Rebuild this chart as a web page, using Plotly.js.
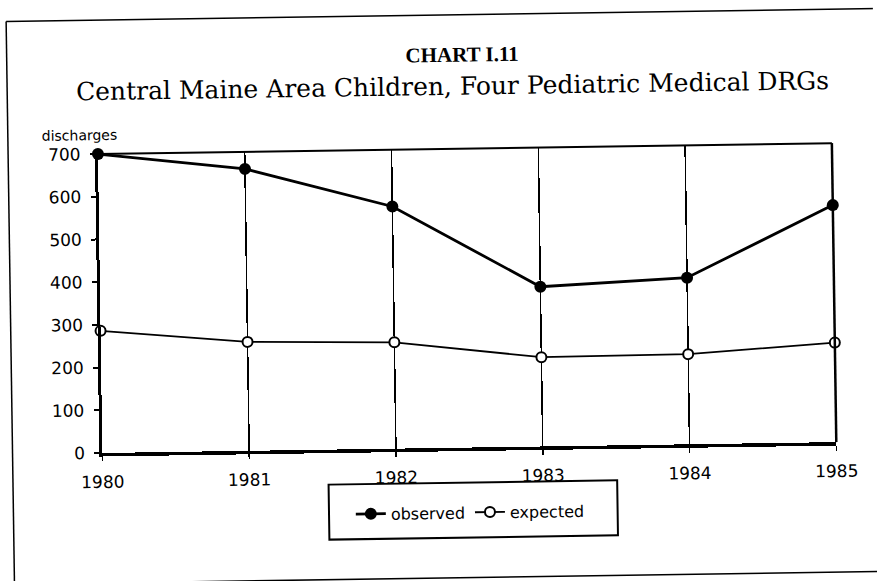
<!DOCTYPE html>
<html>
<head>
<meta charset="utf-8">
<script src="https://cdn.plot.ly/plotly-3.0.1.min.js"></script>
<style>
html,body{margin:0;padding:0;background:#fff;overflow:hidden;}
#chart{width:877px;height:581px;transform:rotate(-0.85deg);transform-origin:438px 290px;}
</style>
</head>
<body>
<div id="chart"></div>
<script>
var years = [1980, 1981, 1982, 1983, 1984, 1985];
var observed = [700, 660, 567, 374, 390, 555];
var expected = [286, 255, 249, 209, 211, 233];
var yTicks = [0, 100, 200, 300, 400, 500, 600, 700];
var seriesNames = ["observed", "expected"];

var traces = [
  {
    x: years, y: observed, name: seriesNames[0], type: "scatter", mode: "lines+markers",
    line: {color: "#000", width: 2.8},
    marker: {color: "#000", size: 12, symbol: "circle"},
    cliponaxis: false
  },
  {
    x: years, y: expected, name: seriesNames[1], type: "scatter", mode: "lines+markers",
    line: {color: "#000", width: 1.8},
    marker: {color: "#fff", size: 10, symbol: "circle", line: {color: "#000", width: 2}},
    cliponaxis: false
  }
];

var tickFont = {family: "DejaVu Sans, sans-serif", size: 17, color: "#000"};

var layout = {
  width: 877, height: 581,
  margin: {l: 100, r: 43, t: 149, b: 133},
  paper_bgcolor: "#fff", plot_bgcolor: "#fff",
  showlegend: true,
  legend: {
    orientation: "h", x: 0.5, y: -0.217, xanchor: "center", yanchor: "middle",
    font: {family: "DejaVu Sans, sans-serif", size: 16, color: "#000"},
    bgcolor: "rgba(0,0,0,0)", itemwidth: 30
  },
  xaxis: {
    range: [1980, 1985], tickvals: years, ticktext: years.map(String),
    showgrid: true, gridcolor: "#000", gridwidth: 1.5,
    showline: true, linecolor: "#000", linewidth: 3.5,
    ticks: "outside", ticklen: 5, tickcolor: "#000", tickwidth: 1.5,
    ticklabelstandoff: 6,
    zeroline: false, tickfont: tickFont
  },
  yaxis: {
    range: [0, 700], tickvals: yTicks, ticktext: yTicks.map(String),
    showgrid: false, zeroline: false,
    showline: true, linecolor: "#000", linewidth: 3,
    ticks: "outside", ticklen: 5, tickcolor: "#000", tickwidth: 2,
    ticklabelstandoff: 6,
    tickfont: tickFont
  },
  yaxis2: {
    overlaying: "y", side: "left", range: [0, 700], tickvals: yTicks,
    showgrid: false, zeroline: false, showline: false, showticklabels: false,
    ticks: "inside", ticklen: 5, tickcolor: "#000", tickwidth: 2
  },
  shapes: [
    {type: "line", xref: "paper", yref: "paper", x0: 0, x1: 1, y0: 1, y1: 1, line: {color: "#000", width: 2}},
    {type: "line", xref: "paper", yref: "paper", x0: 1, x1: 1, y0: 0, y1: 1, line: {color: "#000", width: 2.5}},
    {type: "rect", xref: "paper", yref: "paper", x0: 0.3075, x1: 0.7007, y0: -0.301, y1: -0.117, line: {color: "#000", width: 2}},
    {type: "line", xref: "paper", yref: "paper", x0: -0.1224, x1: 1.2, y0: 1.448, y1: 1.448, line: {color: "#000", width: 1.5}},
    {type: "line", xref: "paper", yref: "paper", x0: -0.1224, x1: -0.1224, y0: 1.448, y1: -0.6, line: {color: "#000", width: 1.5}},
    {type: "line", xref: "paper", yref: "paper", x0: -0.1224, x1: 1.2, y0: -0.435, y1: -0.435, line: {color: "#000", width: 1.5}}
  ],
  annotations: [
    {text: "<b>CHART I.11</b>", xref: "paper", yref: "paper", x: (465 - 100) / 734, y: (448 - 55) / 299, xanchor: "center", yanchor: "middle", showarrow: false,
     font: {family: "Liberation Serif, serif", size: 21, color: "#000"}},
    {text: "Central Maine Area Children, Four Pediatric Medical DRGs", xref: "paper", yref: "paper", x: (455 - 100) / 734, y: (448 - 87) / 299, xanchor: "center", yanchor: "middle", showarrow: false,
     font: {family: "DejaVu Serif, serif", size: 25, color: "#000"}},
    {text: "discharges", xref: "paper", yref: "paper", x: (42 - 100) / 734, y: (448 - 130) / 299, xanchor: "left", yanchor: "middle", showarrow: false,
     font: {family: "DejaVu Sans, sans-serif", size: 14, color: "#000"}}
  ]
};

Plotly.newPlot("chart", traces, layout, {displayModeBar: false, staticPlot: true});
</script>
</body>
</html>
